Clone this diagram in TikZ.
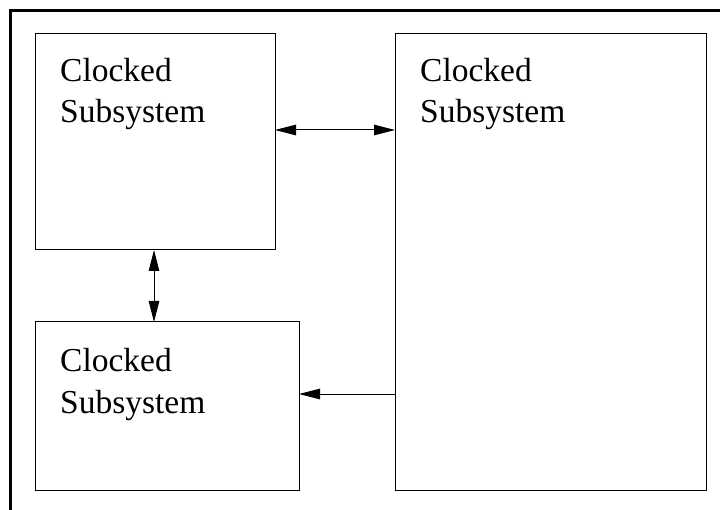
\documentclass[tikz,border=0pt]{standalone}
\usepackage{fontspec}
\setmainfont{Liberation Serif}
\usetikzlibrary{arrows.meta,calc}
\tikzset{
  subsys/.style={draw, line width=1pt, rectangle, inner sep=0pt, outer sep=0pt, anchor=north west},
  lbl/.style={anchor=base west, inner sep=0pt, font=\fontsize{33.5}{40}\selectfont},
  link/.style={line width=1pt, -{Triangle[length=21pt,width=10.5pt]}},
  dlink/.style={line width=1pt, {Triangle[length=21pt,width=10.5pt]}-{Triangle[length=21pt,width=10.5pt]}}
}
\begin{document}
\begin{tikzpicture}[x=1pt,y=-1pt]
  \clip (0,0) rectangle (720,510);
  \fill[white] (0,0) rectangle (720,510);
  % enclosing frame (runs past the right and bottom edges)
  \draw[line width=2.5pt] (10.5,10.5) rectangle (740,530);

  % subsystems
  \node[subsys, minimum width=240pt, minimum height=216pt] (A) at (35,34) {};
  \node[subsys, minimum width=311pt, minimum height=456pt] (B) at (395,34) {};
  \node[subsys, minimum width=264pt, minimum height=168pt] (C) at (35,322) {};

  \node[lbl] (A1) at (60,82) {Clocked};
  \node[lbl] (A2) at (60,123) {Subsystem};
  \node[lbl] (B1) at (420,82) {Clocked};
  \node[lbl] (B2) at (420,123) {Subsystem};
  \node[lbl] (C1) at (60,372) {Clocked};
  \node[lbl] (C2) at (60,413) {Subsystem};

  % connections
  \coordinate (ab) at ([yshift=-96pt]A.north east);
  \draw[dlink] (ab) -- (ab -| B.west);
  \coordinate (ac) at ([xshift=-1pt]A.south);
  \draw[dlink] (ac) -- (ac |- C.north);
  \coordinate (bc) at ([yshift=12pt]C.east);
  \draw[link] (bc -| B.west) -- (bc);
\end{tikzpicture}
\end{document}
